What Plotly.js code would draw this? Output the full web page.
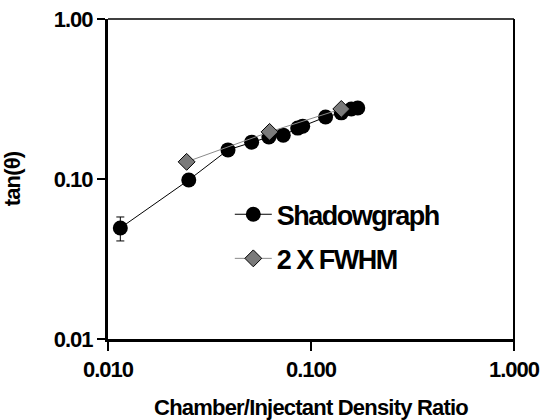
<!DOCTYPE html>
<html>
<head>
<meta charset="utf-8">
<script src="https://cdn.plot.ly/plotly-3.0.1.min.js"></script>
<style>
html,body{margin:0;padding:0;background:#fff;}
#chart{width:550px;height:420px;}
#chart .xtick text, #chart .ytick text{letter-spacing:-1px;}
#chart .legendtext{letter-spacing:-1.5px;}
#chart .xtitle, #chart .ytitle{letter-spacing:-0.8px;}
</style>
</head>
<body>
<div id="chart"></div>
<script>
// Shadowgraph series
const shadowX = [0.0115, 0.025, 0.039, 0.051, 0.062, 0.073, 0.086, 0.091, 0.118, 0.141, 0.158, 0.170];
const shadowY = [0.0494, 0.0986, 0.152, 0.170, 0.183, 0.188, 0.208, 0.214, 0.244, 0.259, 0.274, 0.278];
const shadowErrPlus  = [0.0085, 0, 0, 0, 0, 0, 0, 0, 0, 0, 0, 0];
const shadowErrMinus = [0.0084, 0, 0, 0, 0, 0, 0, 0, 0, 0, 0, 0];
// 2 X FWHM series
const fwhmX = [0.0244, 0.0625, 0.141];
const fwhmY = [0.128, 0.197, 0.274];
// ticks
const xTickVals = [0.01, 0.1, 1];
const xTickText = ["0.010", "0.100", "1.000"];
const yTickVals = [0.01, 0.1, 1];
const yTickText = ["0.01", "0.10", "1.00"];
const minorTickVals = [0.02, 0.03, 0.04, 0.05, 0.06, 0.07, 0.08, 0.09,
                       0.2, 0.3, 0.4, 0.5, 0.6, 0.7, 0.8, 0.9];

const FONT = "Liberation Sans, Arial, Helvetica, sans-serif";

const traces = [
  {
    x: shadowX, y: shadowY, name: "Shadowgraph", type: "scatter", mode: "lines+markers",
    legendgroup: "a",
    line: {color: "#000", width: 1},
    marker: {symbol: "circle", size: 15, color: "#000"},
    error_y: {type: "data", symmetric: false, array: shadowErrPlus, arrayminus: shadowErrMinus,
              color: "#000", thickness: 1, width: 4}
  },
  {
    x: fwhmX, y: fwhmY, name: "2 X FWHM", type: "scatter", mode: "lines+markers",
    legendgroup: "b",
    line: {color: "#8a8a8a", width: 1},
    marker: {symbol: "diamond", size: 13, color: "#7a7a7a", line: {color: "#000", width: 1}}
  }
];

const minorAxis = {
  type: "log", range: [-2, 0],
  tickmode: "array", tickvals: minorTickVals,
  ticks: "inside", ticklen: 6, tickwidth: 2, tickcolor: "#000",
  showticklabels: false, showline: false, showgrid: false, zeroline: false
};

const layout = {
  width: 550, height: 420,
  margin: {l: 108, r: 36, t: 19, b: 81},
  paper_bgcolor: "#fff", plot_bgcolor: "#fff",
  font: {family: FONT, color: "#000"},
  showlegend: true,
  legend: {x: 0.3, y: 0.465, xanchor: "left", yanchor: "top", bgcolor: "rgba(0,0,0,0)",
           itemwidth: 37,
           font: {family: FONT, size: 27, color: "#000", weight: "bold"}, tracegroupgap: 6},
  xaxis: {
    type: "log", range: [-2, 0],
    tickmode: "array", tickvals: xTickVals, ticktext: xTickText,
    ticks: "outside", ticklen: 9, tickwidth: 2, tickcolor: "#000",
    showline: true, linewidth: 3, linecolor: "#000",
    showgrid: false, zeroline: false,
    tickfont: {family: FONT, size: 22, weight: "bold"},
    title: {text: "Chamber/Injectant Density Ratio", font: {family: FONT, size: 22, weight: "bold"}, standoff: 26}
  },
  yaxis: {
    type: "log", range: [-2, 0],
    tickmode: "array", tickvals: yTickVals, ticktext: yTickText,
    ticks: "outside", ticklen: 8, tickwidth: 2, tickcolor: "#000",
    showline: true, linewidth: 3, linecolor: "#000",
    showgrid: false, zeroline: false,
    tickfont: {family: FONT, size: 22, weight: "bold"},
    title: {text: "tan(θ)", font: {family: FONT, size: 22, weight: "bold"}, standoff: 26}
  },
  xaxis2: Object.assign({overlaying: "x", anchor: "y", side: "bottom"}, minorAxis),
  yaxis2: Object.assign({overlaying: "y", anchor: "x", side: "left"}, minorAxis),
  shapes: [
    {type: "line", xref: "paper", yref: "paper", x0: 0, x1: 1, y0: 1, y1: 1, line: {color: "#000", width: 1.5}},
    {type: "line", xref: "paper", yref: "paper", x0: 1, x1: 1, y0: 1, y1: -0.03, line: {color: "#000", width: 2}}
  ]
};

Plotly.newPlot("chart", traces, layout, {displayModeBar: false, staticPlot: true});
</script>
</body>
</html>
